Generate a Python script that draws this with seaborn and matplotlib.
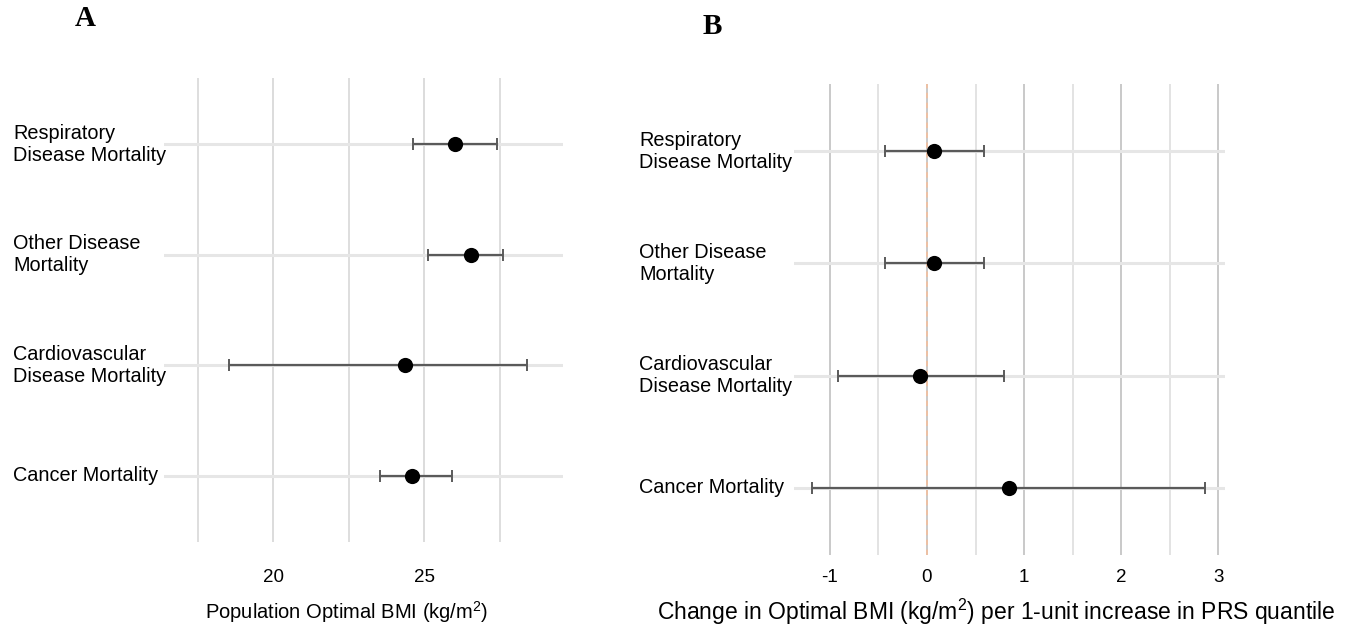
import matplotlib
matplotlib.use("Agg")
import matplotlib.pyplot as plt
import seaborn as sns
import pandas as pd
import numpy as np

# ---- data ----
categories = ["Respiratory\nDisease Mortality", "Other Disease\nMortality",
              "Cardiovascular\nDisease Mortality", "Cancer Mortality"]
ypos = [4, 3, 2, 1]

a_est = [26.01, 26.56, 24.37, 24.60]
a_lo = [24.65, 25.13, 18.53, 23.54]
a_hi = [27.40, 27.63, 28.42, 25.93]

b_est = [0.075, 0.075, -0.07, 0.845]
b_lo = [-0.435, -0.435, -0.92, -1.18]
b_hi = [0.59, 0.59, 0.79, 2.86]

a_ticks = [20, 25]
a_minor = [17.5, 22.5, 27.5]
b_ticks = [-1, 0, 1, 2, 3]
b_minor = [-0.5, 0.5, 1.5, 2.5]

a_xlabel = "Population Optimal BMI (kg/m$^{2}$)"
b_xlabel = "Change in Optimal BMI (kg/m$^{2}$) per 1-unit increase in PRS quantile"

sns.set_theme(style="white")
plt.rcParams["font.family"] = ["Liberation Sans", "DejaVu Sans"]
plt.rcParams["mathtext.default"] = "regular"
plt.rcParams["text.color"] = "black"

W, H = 1351, 629
fig = plt.figure(figsize=(W / 100, H / 100), dpi=100)

def box(x0, x1, ytop, ybot):
    return [x0 / W, 1 - ybot / H, (x1 - x0) / W, (ybot - ytop) / H]

axA = fig.add_axes(box(164, 563, 78, 542))
axB = fig.add_axes(box(794, 1225, 84, 555))

dfA = pd.DataFrame({"cat": categories, "y": ypos, "est": a_est, "lo": a_lo, "hi": a_hi})
dfB = pd.DataFrame({"cat": categories, "y": ypos, "est": b_est, "lo": b_lo, "hi": b_hi})

def draw(ax, df, xlim, major, minor, major_col, minor_col, label_left_px, axis_left_px,
         tick_pad_px, xlabel, xlabel_size):
    ax.set_xlim(*xlim)
    ax.set_ylim(0.4, 4.6)
    for s in ax.spines.values():
        s.set_visible(False)
    # grid
    for x in minor:
        ax.axvline(x, color=minor_col, lw=1.4, zorder=0)
    for x in major:
        ax.axvline(x, color=major_col, lw=1.4, zorder=0)
    for y in df["y"]:
        ax.axhline(y, color="#e6e6e6", lw=2.2, zorder=0.5)
    # error bars
    ax.errorbar(df["est"], df["y"],
                xerr=[df["est"] - df["lo"], df["hi"] - df["est"]],
                fmt="none", ecolor="#5a5a5a", elinewidth=1.6, capsize=4,
                capthick=1.4, zorder=2)
    sns.scatterplot(data=df, x="est", y="y", ax=ax, color="black", s=120,
                    edgecolor="black", linewidth=0, zorder=3, legend=False)
    ax.set_xticks(major)
    ax.set_xticklabels([str(v) for v in major])
    ax.set_yticks(df["y"])
    ax.set_yticklabels(df["cat"], ha="left", va="center", linespacing=1.2)
    ax.tick_params(axis="y", length=0, labelsize=14.3,
                   pad=(axis_left_px - label_left_px) * 0.72, colors="black")
    ax.tick_params(axis="x", length=0, labelsize=13.5, pad=tick_pad_px * 0.72,
                   colors="black")
    ax.set_xlabel(xlabel, fontsize=xlabel_size, color="black")
    ax.set_ylabel("")

draw(axA, dfA, (16.39, 29.6), a_ticks, a_minor, "#dcdcdc", "#dedede", 13, 164, 27,
     a_xlabel, 14.5)
draw(axB, dfB, (-1.37, 3.07), b_ticks, b_minor, "#c9c9c9", "#e3e3e3", 639, 794, 14,
     b_xlabel, 16.5)

axB.axvline(0, color="#f0c0a0", lw=1.3, ls=(0, (3, 2.5)), zorder=1)

# x-label positions (figure pixels -> axes coords)
def set_label_pos(ax, xpx, ypx):
    inv = ax.transAxes.inverted()
    xa, ya = inv.transform((xpx, H - ypx))
    ax.xaxis.set_label_coords(xa, ya)
    ax.xaxis.label.set_va("center")

set_label_pos(axA, 347, 612)
set_label_pos(axB, 996, 612)

fig.text(85 / W, 1 - 19 / H, "A", family="Liberation Serif", weight="bold",
         fontsize=21, ha="center", va="center", color="black")
fig.text(712 / W, 1 - 27 / H, "B", family="Liberation Serif", weight="bold",
         fontsize=21, ha="center", va="center", color="black")

fig.savefig("out.png", dpi=100, facecolor="white")
